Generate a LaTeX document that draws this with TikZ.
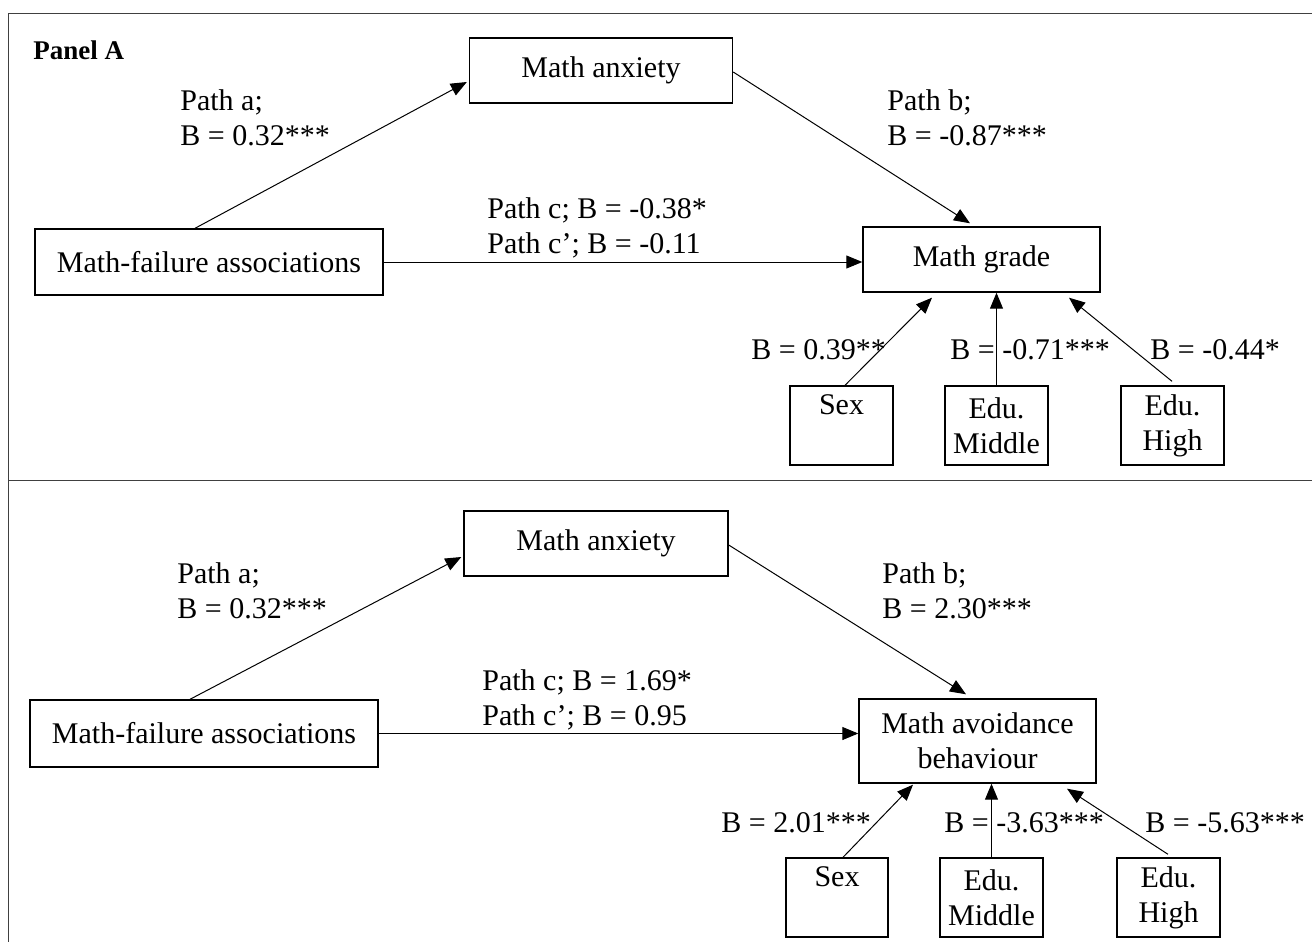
\documentclass[tikz,border=0pt]{standalone}
\usepackage{fontspec}
\setmainfont{Liberation Serif}
\usetikzlibrary{arrows.meta}

\begin{document}
\begin{tikzpicture}[x=0.5pt, y=-0.5pt,
  box/.style={draw, line width=0.7pt, inner sep=0pt, align=center},
  lbl/.style={anchor=west, inner sep=0pt, align=left},
  arr/.style={line width=0.5pt, -{Triangle[length=8pt,width=6.5pt]}}]

\fontsize{15}{17.5}\selectfont
\path [use as bounding box] (0,0) rectangle (1312,942);

% FRAME
\draw [line width=0.8pt, black!75] (8.5,942) -- (8.5,13.5) -- (1312,13.5);
\draw [line width=0.8pt, black!75] (8.5,480.5) -- (1312,480.5);
\node [anchor=west, inner sep=0pt, font=\bfseries\fontsize{13.5}{15}\selectfont] (panel) at (33,50) {Panel A};

% PANEL A: BOXES
\node [box, minimum width=131.5pt, minimum height=32.5pt] (anx) at (601,70.5) {Math anxiety};
\node [box, minimum width=174pt, minimum height=33pt] (mfa) at (209,262) {Math-failure associations};
\node [box, minimum width=118.5pt, minimum height=32.5pt] (grade) at (981.5,259.5) {Math grade};
\node [box, minimum width=51.5pt, minimum height=39.5pt] (sex) at (841.5,425.5) {Sex\\\phantom{High}};
\node [box, minimum width=51.5pt, minimum height=39.5pt] (mid) at (996.5,425.5) {Edu.\\Middle};
\node [box, minimum width=51.5pt, minimum height=39.5pt] (high) at (1172.5,425.5) {Edu.\\High};

% PANEL A: PATHS
\draw [arr] ([shift={(-14,0)}]mfa.north) -- ([shift={(-2,11.5)}]anx.west);
\draw [arr] ([shift={(0,1.5)}]anx.east) -- ([shift={(-11.5,-3)}]grade.north);
\draw [arr] (mfa.east) -- (mfa.east -| grade.west);
\draw [arr] ([shift={(3.5,0)}]sex.north) -- ([shift={(-49.5,5)}]grade.south);
\draw [arr] (mid.north) -- (mid.north |- grade.south);
\draw [arr] ([shift={(-0.5,-4)}]high.north) -- ([shift={(87.5,5)}]grade.south);

\node [lbl] (pa) at (180,118) {Path a;\\B = 0.32***};
\node [lbl] (pb) at (887,118) {Path b;\\B = -0.87***};
\node [lbl] (pc) at (487,228) {Path c; B = -0.38*\\Path c’; B = -0.11};
\node [lbl] (bs) at (751,350) {B = 0.39**};
\node [lbl] (bm) at (950,350) {B = -0.71***};
\node [lbl] (bh) at (1150,350) {B = -0.44*};

% PANEL B: BOXES
\node [box, minimum width=132pt, minimum height=32.5pt] (anx2) at (596,543.5) {Math anxiety};
\node [box, minimum width=174pt, minimum height=33.5pt] (mfa2) at (204,733.5) {Math-failure associations};
\node [box, minimum width=118.5pt, minimum height=42pt] (avoid) at (977.5,741) {Math avoidance\\behaviour};
\node [box, minimum width=51pt, minimum height=39.5pt] (sex2) at (837,897.5) {Sex\\\phantom{High}};
\node [box, minimum width=51.5pt, minimum height=39.5pt] (mid2) at (991.5,897.5) {Edu.\\Middle};
\node [box, minimum width=51.5pt, minimum height=39.5pt] (high2) at (1168.5,897.5) {Edu.\\High};

% PANEL B: PATHS
\draw [arr] ([shift={(-14,0)}]mfa2.north) -- ([shift={(-2,13.5)}]anx2.west);
\draw [arr] ([shift={(0,1.5)}]anx2.east) -- ([shift={(-11.5,-4)}]avoid.north);
\draw [arr] (mfa2.east) -- (mfa2.east -| avoid.west);
\draw [arr] ([shift={(6,0)}]sex2.north) -- ([shift={(-64.5,1)}]avoid.south);
\draw [arr] (mid2.north) -- (mid2.north |- avoid.south);
\draw [arr] ([shift={(-0.5,-3)}]high2.north) -- ([shift={(89.5,5)}]avoid.south);

\node [lbl] (pa2) at (177,591) {Path a;\\B = 0.32***};
\node [lbl] (pb2) at (882,591) {Path b;\\B = 2.30***};
\node [lbl] (pc2) at (482,700) {Path c; B = 1.69*\\Path c’; B = 0.95};
\node [lbl] (bs2) at (721,823) {B = 2.01***};
\node [lbl] (bm2) at (944,823) {B = -3.63***};
\node [lbl] (bh2) at (1145,823) {B = -5.63***};

\end{tikzpicture}
\end{document}
